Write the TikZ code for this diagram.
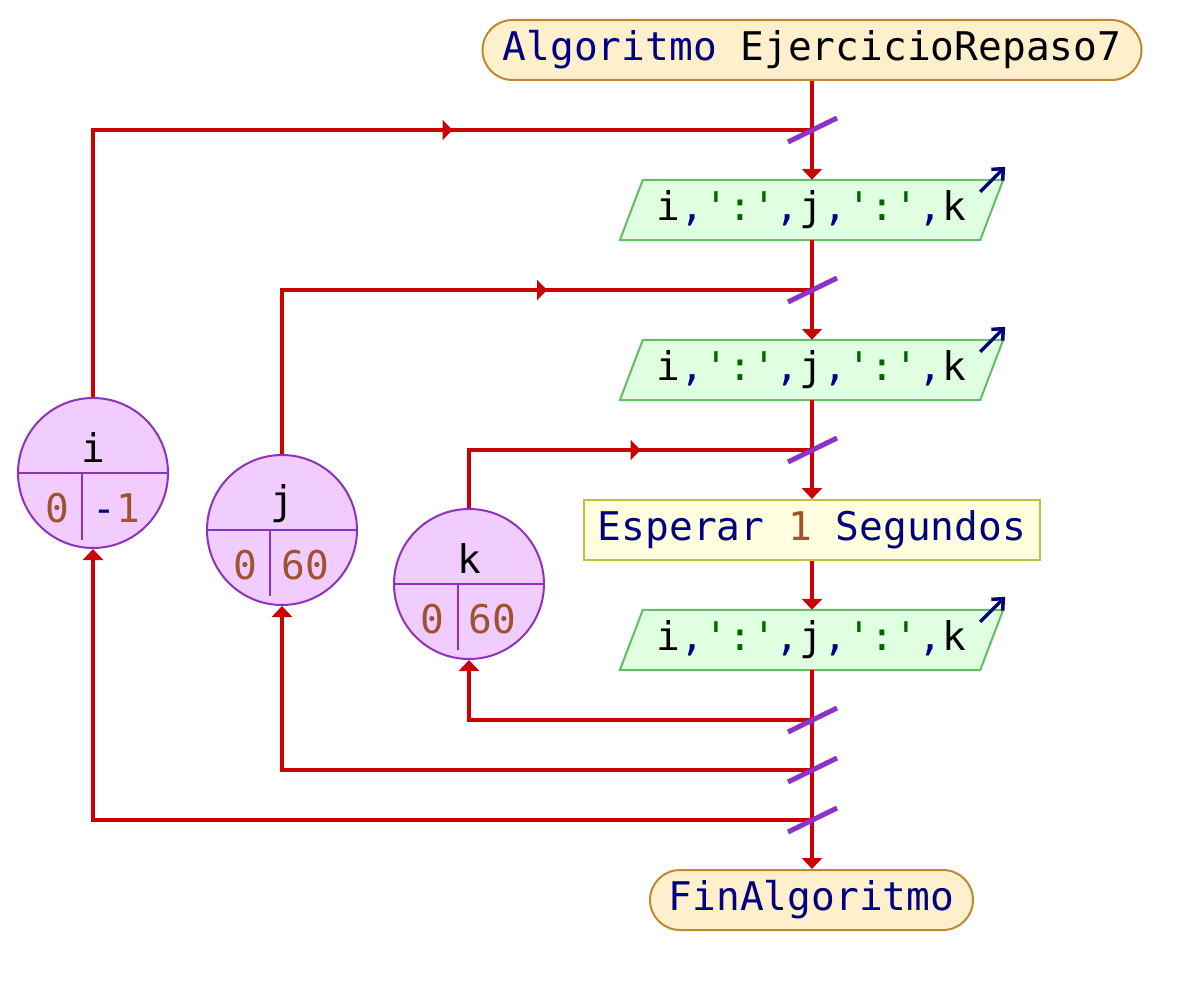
\documentclass[tikz,border=0pt]{standalone}
\usepackage{fontspec}
\setmainfont{DejaVu Sans Mono}
\usetikzlibrary{arrows.meta,decorations.markings,backgrounds,calc}
\definecolor{flowred}{RGB}{204,0,0}
\definecolor{slashc}{RGB}{140,50,200}
\definecolor{circb}{RGB}{140,50,190}
\definecolor{circf}{RGB}{240,204,255}
\definecolor{startf}{RGB}{255,240,205}
\definecolor{startb}{RGB}{192,136,48}
\definecolor{outf}{RGB}{224,255,224}
\definecolor{outb}{RGB}{96,192,96}
\definecolor{waitf}{RGB}{255,255,224}
\definecolor{waitb}{RGB}{192,192,64}
\definecolor{kwnavy}{RGB}{0,0,128}
\definecolor{numbrown}{RGB}{160,82,45}
\definecolor{strgreen}{RGB}{0,100,0}
\newcommand{\bigf}{\fontsize{39.5}{46}\selectfont}
\newcommand{\sq}{\XeTeXglyph\XeTeXcharglyph"27\relax}
\newcommand{\outtext}{i\textcolor{kwnavy}{,}\textcolor{strgreen}{\sq:\sq}\textcolor{kwnavy}{,}j\textcolor{kwnavy}{,}\textcolor{strgreen}{\sq:\sq}\textcolor{kwnavy}{,}k}
\tikzset{
  flow/.style={draw=flowred, line width=3.5pt},
  flowarr/.style={flow, -{Triangle[length=11pt,width=20pt]}},
  midarr/.style={flow, postaction={decorate}, decoration={markings, mark=at position 0.5 with {\arrow{Triangle[length=10pt,width=20pt]}}}},
  slashst/.style={draw=slashc, line width=5pt},
  startbox/.style={draw=startb, fill=startf, line width=2pt, rounded corners=30pt, minimum height=60pt, inner sep=0pt, font=\bigf, text=kwnavy},
  outbox/.style={minimum width=383pt, minimum height=60pt, inner sep=0pt, font=\bigf},
  outshape/.style={draw=outb, fill=outf, line width=2pt},
  outicon/.style={draw=kwnavy, line width=3.5pt, -{Straight Barb[length=9pt,width=16pt]}},
  waitbox/.style={draw=waitb, fill=waitf, line width=2pt, minimum width=456pt, minimum height=60pt, inner sep=0pt, font=\bigf, text=kwnavy},
  varcirc/.style={circle, draw=circb, fill=circf, line width=2pt, minimum size=150pt, inner sep=0pt},
  cline/.style={draw=circb, line width=2pt},
  ctext/.style={font=\bigf, inner sep=0pt},
  ntext/.style={font=\bigf, inner sep=0pt, text=numbrown},
}
\begin{document}
\begin{tikzpicture}[x=1pt,y=-1pt]
\useasboundingbox (0,0) rectangle (1192,1000);
% main nodes
\node[startbox, minimum width=659pt] (start) at (812,50) {Algoritmo \textcolor{black}{EjercicioRepaso7}};
\node[outbox] (p1) at (811.5,210) {\outtext};
\node[outbox] (p2) at (811.5,370) {\outtext};
\node[waitbox] (wait) at (812,530) {Esperar \textcolor{numbrown}{1} Segundos};
\node[outbox] (p3) at (811.5,640) {\outtext};
\node[startbox, minimum width=323pt] (fin) at (811.5,900) {FinAlgoritmo};
\begin{scope}[on background layer]
\foreach \p in {p1,p2,p3}{
  \draw[outshape] (\p.south west) -- ([xshift=-23pt]\p.south east) -- (\p.north east) -- ([xshift=23pt]\p.north west) -- cycle;
}
\end{scope}
\foreach \p in {p1,p2,p3}{
  \draw[outicon] ([shift={(-23,12)}]\p.north east) -- ([shift={(2,-13)}]\p.north east);
}
% circles
\node[varcirc] (i) at (93,473) {};
\node[varcirc] (j) at (282,530) {};
\node[varcirc] (k) at (469,584) {};
\draw[cline] (i.west) -- (i.east);
\draw[cline] (82,473) -- (82,540);
\draw[cline] (j.west) -- (j.east);
\draw[cline] (270,530) -- (270,596);
\draw[cline] (k.west) -- (k.east);
\draw[cline] (458,584) -- (458,650);
\node[ctext] (itop) at (93,447) {i};
\node[ntext] (ilo) at (57,508) {0};
\node[ntext] (ihi) at (116,508) {\textcolor{kwnavy}{-}1};
\node[ctext] (jtop) at (282,504) {j};
\node[ntext] (jlo) at (245,565) {0};
\node[ntext] (jhi) at (305,565) {60};
\node[ctext] (ktop) at (469,558) {k};
\node[ntext] (klo) at (432,619) {0};
\node[ntext] (khi) at (492,619) {60};
% junction coordinates
\coordinate (s1) at (812,130);
\coordinate (s2) at (812,290);
\coordinate (s3) at (812,450);
\coordinate (r1) at (812,720);
\coordinate (r2) at (812,770);
\coordinate (r3) at (812,820);
% main flow
\draw[flowarr] (start.south -| s1) -- (p1.north -| s1);
\draw[flowarr] (p1.south -| s1) -- (p2.north -| s1);
\draw[flowarr] (p2.south -| s1) -- (wait.north -| s1);
\draw[flowarr] (wait.south -| s1) -- (p3.north -| s1);
\draw[flowarr] (p3.south -| s1) -- (fin.north -| s1);
% loops
\draw[flow] (i.north) |- (s1);
\draw[midarr] (i.north |- s1) -- (s1);
\draw[flow] (j.north) |- (s2);
\draw[midarr] (j.north |- s2) -- (s2);
\draw[flow] (k.north) |- (s3);
\draw[midarr] (k.north |- s3) -- (s3);
\draw[flowarr] (r1) -| (k.south);
\draw[flowarr] (r2) -| (j.south);
\draw[flowarr] (r3) -| (i.south);
% slashes
\foreach \s in {s1,s2,s3,r1,r2,r3}{
  \draw[slashst] ([shift={(-24,12)}]\s) -- ([shift={(25,-12)}]\s);
}
\end{tikzpicture}
\end{document}
